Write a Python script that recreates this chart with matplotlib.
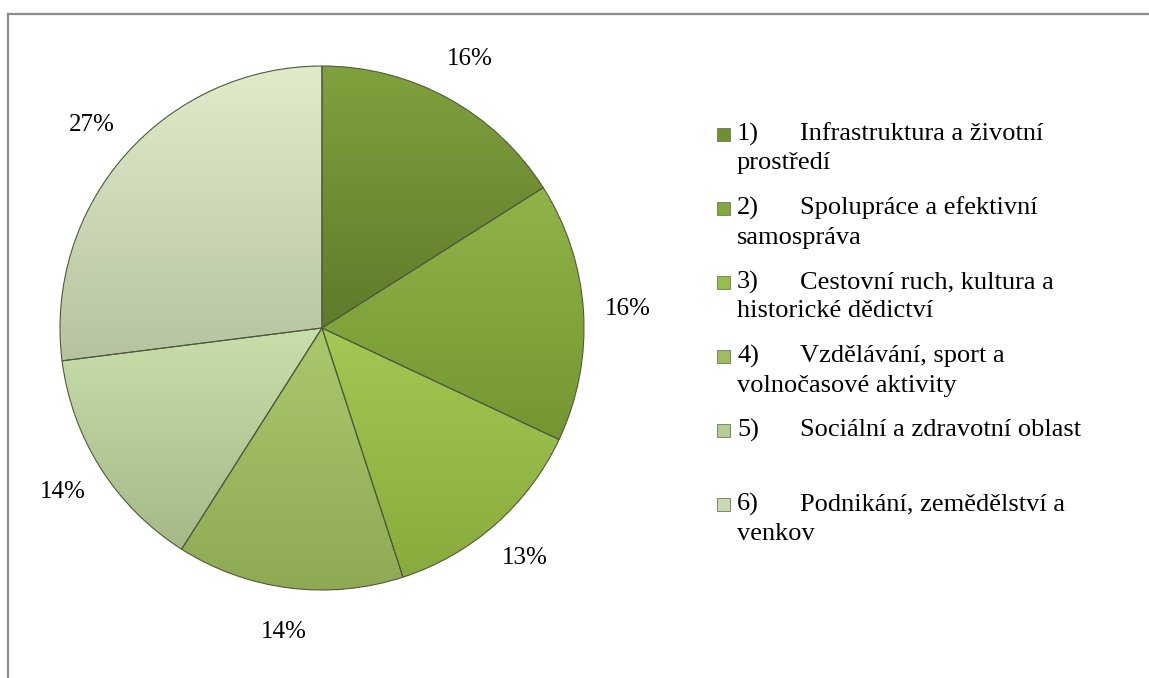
import numpy as np
import matplotlib.pyplot as plt
from matplotlib.colors import to_rgb
from matplotlib.patches import Rectangle
from matplotlib.lines import Line2D

# data
numbers = ["1)", "2)", "3)", "4)", "5)", "6)"]
categories = [
    "Infrastruktura a životní\nprostředí",
    "Spolupráce a efektivní\nsamospráva",
    "Cestovní ruch, kultura a\nhistorické dědictví",
    "Vzdělávání, sport a\nvolnočasové aktivity",
    "Sociální a zdravotní oblast",
    "Podnikání, zemědělství a\nvenkov",
]
shares = [16, 16, 13, 14, 14, 27]

# light (top) / dark (bottom) shade of each slice
tops = ["#80a13d", "#90b448", "#a4c853", "#aac86b", "#c9dfab", "#e0ebca"]
bottoms = ["#5e7b2a", "#739632", "#88ab3c", "#8eaa55", "#a6b888", "#b6c3a0"]
mids = ["#6e8f32", "#84a83d", "#98bd48", "#9fbc60", "#b6cc94", "#cbd8b4"]

plt.rcParams["font.family"] = ["Liberation Serif", "DejaVu Serif"]

W, H = 1149, 678
fig = plt.figure(figsize=(W / 100, H / 100), dpi=100)


def fx(px):
    return px / W


def fy(py):
    return 1 - py / H


# pie axes: centre (322, 328) px, radius 262 px
cx, cy, r = 322, 328, 262
ax = fig.add_axes([fx(cx - r), fy(cy + r), 2 * r / W, 2 * r / H])
wedges, _, autotexts = ax.pie(
    shares, startangle=90, counterclock=False, radius=1,
    autopct="%.0f%%", pctdistance=1.17,
    wedgeprops=dict(facecolor="none", edgecolor="#4f5a3c", linewidth=0.8),
    textprops=dict(fontsize=18, color="black"),
)
ax.set_xlim(-1, 1)
ax.set_ylim(-1, 1)
ax.set_aspect("equal")
ax.axis("off")

# vertical gradient fill for every slice
for w, t, b in zip(wedges, tops, bottoms):
    bb = w.get_path().get_extents()
    n = 256
    frac = np.linspace(0, 1, n)[:, None]
    grad = (1 - frac) * np.array(to_rgb(t)) + frac * np.array(to_rgb(b))
    img = ax.imshow(grad[:, None, :], extent=[bb.x0, bb.x1, bb.y0, bb.y1],
                    origin="upper", aspect="auto", zorder=0.5,
                    interpolation="bilinear")
    img.set_clip_path(w)
ax.set_xlim(-1, 1)
ax.set_ylim(-1, 1)

# legend drawn by hand so the marker sits on the first line
y0, step, line_h = 134, 74, 29.5
for i, (num, name, col) in enumerate(zip(numbers, categories, mids)):
    y = y0 + i * step
    fig.patches.append(Rectangle((fx(717), fy(y + 6.5)), 13 / W, 13 / H,
                                 transform=fig.transFigure, facecolor=col,
                                 edgecolor="#6b7a55", linewidth=0.6))
    fig.text(fx(737), fy(y), num, fontsize=19, va="center", ha="left")
    lines = name.split("\n")
    fig.text(fx(800), fy(y), lines[0], fontsize=19, va="center", ha="left")
    for k, ln in enumerate(lines[1:], start=1):
        fig.text(fx(737), fy(y + k * line_h), ln, fontsize=19,
                 va="center", ha="left")

# frame: top and left border only
fig.add_artist(Line2D([fx(8), 1], [fy(14), fy(14)], color="#8c8c8c",
                      linewidth=1.6, transform=fig.transFigure))
fig.add_artist(Line2D([fx(8), fx(8)], [fy(14), 0], color="#8c8c8c",
                      linewidth=1.6, transform=fig.transFigure))

fig.savefig("out.png", dpi=100)
